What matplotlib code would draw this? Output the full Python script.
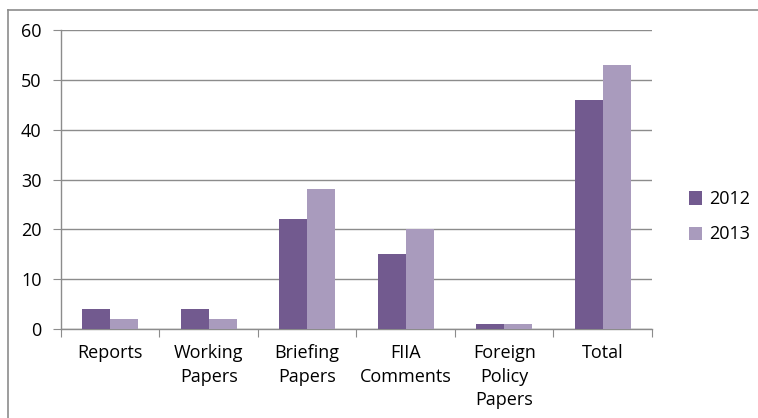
import matplotlib
matplotlib.use("Agg")
import matplotlib.pyplot as plt
import numpy as np
from matplotlib.lines import Line2D

categories = ["Reports", "Working\nPapers", "Briefing\nPapers", "FIIA\nComments",
              "Foreign\nPolicy\nPapers", "Total"]
vals_2012 = [4, 4, 22, 15, 1, 46]
vals_2013 = [2, 2, 28, 20, 1, 53]
years = ["2012", "2013"]
colors = ["#725a8f", "#a99bbd"]

plt.rcParams['font.family'] = ['Open Sans', 'DejaVu Sans']

W, H = 758, 418
fig = plt.figure(figsize=(W / 100, H / 100), dpi=100)
ax = fig.add_axes([61 / W, 1 - 329 / H, (652 - 61) / W, (329 - 30) / H])

# outer chart border (only left and top edges show, the rest is cropped)
bx, by = 7.5 / W, 1 - 9.5 / H
fig.add_artist(Line2D([bx, bx], [0, by], transform=fig.transFigure, color="#8c8c8c", lw=1.2))
fig.add_artist(Line2D([bx, 1], [by, by], transform=fig.transFigure, color="#8c8c8c", lw=1.2))

x = np.arange(len(categories))
bw = 0.285
ax.bar(x - bw / 2, vals_2012, bw, color=colors[0], label=years[0], zorder=3)
ax.bar(x + bw / 2, vals_2013, bw, color=colors[1], label=years[1], zorder=3)

ax.set_xlim(-0.5, len(categories) - 0.5)
ax.set_ylim(0, 60)
ax.set_yticks(range(0, 61, 10))
ax.yaxis.grid(True, color="#8c8c8c", lw=1.0, zorder=0)
ax.set_axisbelow(True)

for s in ["top", "right"]:
    ax.spines[s].set_visible(False)
for s in ["left", "bottom"]:
    ax.spines[s].set_color("#8c8c8c")
    ax.spines[s].set_linewidth(1.0)

fs = 13
ax.set_xticks(np.arange(len(categories) + 1) - 0.5, minor=False)
ax.set_xticklabels([])
ax.set_xticks(x, minor=True)
ax.set_xticklabels(categories, minor=True, fontsize=fs, va="top", linespacing=1.4)
ax.tick_params(axis="x", which="major", length=6, color="#8c8c8c", direction="out")
ax.tick_params(axis="x", which="minor", length=0, pad=11)
ax.tick_params(axis="y", length=6, color="#8c8c8c", labelsize=fs, pad=8)

ax.legend(loc="center left", bbox_to_anchor=(1.035, 0.375), frameon=False, fontsize=fs,
          handlelength=0.75, handleheight=0.75, handletextpad=0.35, labelspacing=0.95)

fig.savefig("out.png", dpi=100)
